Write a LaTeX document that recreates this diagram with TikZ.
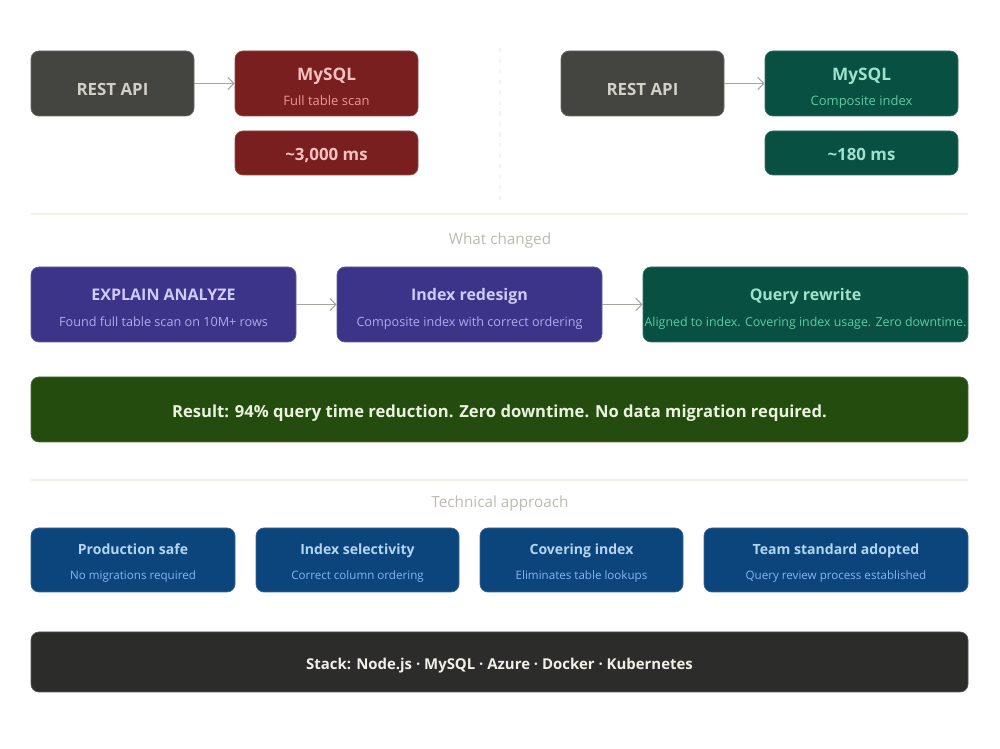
\documentclass[tikz,border=0pt]{standalone}
\usepackage{fontspec}
\setsansfont{Open Sans}
\usetikzlibrary{arrows.meta}
\definecolor{restbg}{HTML}{444441}
\definecolor{resttx}{HTML}{D3D1C7}
\definecolor{redbg}{HTML}{791F1F}
\definecolor{redtx}{HTML}{F7C1C1}
\definecolor{redsub}{HTML}{F09595}
\definecolor{grnbg}{HTML}{085041}
\definecolor{grntx}{HTML}{9FE1CB}
\definecolor{grnsub}{HTML}{5DCAA5}
\definecolor{purbg}{HTML}{3C3489}
\definecolor{purtx}{HTML}{CECBF6}
\definecolor{pursub}{HTML}{AFA9EC}
\definecolor{resbg}{HTML}{234C0E}
\definecolor{restx}{HTML}{EAF3DE}
\definecolor{blubg}{HTML}{0C447C}
\definecolor{blutx}{HTML}{B5D4F4}
\definecolor{blusub}{HTML}{85B7EB}
\definecolor{stkbg}{HTML}{2C2C2A}
\definecolor{stktx}{HTML}{F1EFE8}
\definecolor{hdtx}{HTML}{BCBAB1}
\definecolor{sepln}{HTML}{F1EFE8}
\definecolor{arr}{HTML}{A8A69E}
\newcommand\subA{\mdseries\fontsize{7.4}{14}\selectfont}
\newcommand\subB{\mdseries\fontsize{7.2}{15}\selectfont}
\newcommand\subC{\mdseries\fontsize{6.6}{14.2}\selectfont}
\begin{document}
\begin{tikzpicture}[font=\sffamily, >={Straight Barb[length=3.5pt,width=7pt]},
      bx/.style={rounded corners=4.5pt, align=center, inner sep=0pt, line width=0.4pt},
      big/.style={bx, text height=9pt, text depth=0pt, font=\sffamily\bfseries\fontsize{9.6}{12}\selectfont},
      hd/.style={text=hdtx, font=\sffamily\fontsize{8.7}{10}\selectfont},
      ln/.style={->, draw=arr, line width=0.6pt}]
    \useasboundingbox[fill=white] (0,0) rectangle (20,14.98);
    % before / after
    \node[big, fill=restbg, draw=restbg!80!white, text=resttx, minimum width=3.26cm, minimum height=1.3cm, text height=14pt] (apiA) at (2.25,13.31) {REST API};
    \node[bx, fill=redbg, draw=redbg!80!white, text=redtx, minimum width=3.66cm, minimum height=1.3cm, font=\sffamily\bfseries\fontsize{9.8}{14}\selectfont] (sqlA) at (6.53,13.31)
      {\rule{0pt}{13.6pt}MySQL\\{\subA\color{redsub}Full table scan\rule[-3pt]{0pt}{0pt}}};
    \node[big, fill=redbg, draw=redbg!80!white, text=redtx, minimum width=3.66cm, minimum height=0.88cm] (msA) at (6.53,11.92) {\textasciitilde3,000 ms};
    \node[big, fill=restbg, draw=restbg!80!white, text=resttx, minimum width=3.26cm, minimum height=1.3cm, text height=14pt] (apiB) at (12.85,13.31) {REST API};
    \node[bx, fill=grnbg, draw=grnbg!80!white, text=grntx, minimum width=3.86cm, minimum height=1.3cm, font=\sffamily\bfseries\fontsize{9.8}{14}\selectfont] (sqlB) at (17.23,13.31)
      {\rule{0pt}{13.6pt}MySQL\\{\subA\color{grnsub}Composite index\rule[-3pt]{0pt}{0pt}}};
    \node[big, fill=grnbg, draw=grnbg!80!white, text=grntx, minimum width=3.86cm, minimum height=0.88cm] (msB) at (17.23,11.92) {\textasciitilde180 ms};
    \draw[ln] (apiA) -- (sqlA);
    \draw[ln] (apiB) -- (sqlB);
    \draw[sepln!70!white, dash pattern=on 2.5pt off 3.5pt, line width=0.6pt] (10,14.02) -- (10,10.98);
    \draw[sepln, line width=0.6pt] (0.62,10.70) -- (19.36,10.70);
    % what changed
    \node[hd] (hdA) at (10,10.16) {What changed};
    \node[bx, fill=purbg, draw=purbg!80!white, text=purtx, minimum width=5.3cm, minimum height=1.5cm, font=\sffamily\bfseries\fontsize{9.1}{15}\selectfont] (expl) at (3.27,8.89)
      {\rule{0pt}{13.6pt}EXPLAIN ANALYZE\\{\subB\color{pursub}Found full table scan on 10M+ rows\rule[-3pt]{0pt}{0pt}}};
    \node[bx, fill=purbg, draw=purbg!80!white, text=purtx, minimum width=5.3cm, minimum height=1.5cm, font=\sffamily\bfseries\fontsize{9.1}{15}\selectfont] (idx) at (9.39,8.89)
      {\rule{0pt}{13.6pt}Index redesign\\{\subB\color{pursub}Composite index with correct ordering\rule[-3pt]{0pt}{0pt}}};
    \node[bx, fill=grnbg, draw=grnbg!80!white, text=grntx, minimum width=6.5cm, minimum height=1.5cm, font=\sffamily\bfseries\fontsize{9.1}{15}\selectfont] (qry) at (16.11,8.89)
      {\rule{0pt}{13.6pt}Query rewrite\\{\subB\fontsize{7.05}{15}\selectfont\color{grnsub}Aligned to index. Covering index usage. Zero downtime.\rule[-3pt]{0pt}{0pt}}};
    \draw[ln] (expl) -- (idx);
    \draw[ln] (idx) -- (qry);
    \node[big, fill=resbg, draw=resbg!80!white, text=restx, minimum width=18.74cm, minimum height=1.3cm, font=\sffamily\bfseries\fontsize{9.45}{12}\selectfont] (res) at (9.99,6.79)
      {Result: 94\% query time reduction. Zero downtime. No data migration required.};
    \draw[sepln, line width=0.6pt] (0.62,5.38) -- (19.36,5.38);
    % technical approach
    \node[hd] (hdB) at (10,4.90) {Technical approach};
    \node[bx, fill=blubg, draw=blubg!80!white, text=blutx, font=\sffamily\bfseries\fontsize{8}{14.2}\selectfont, minimum width=4.08cm, minimum height=1.28cm] (prod) at (2.66,3.78)
      {\rule{0pt}{10.8pt}Production safe\\{\subC\color{blusub}No migrations required\rule[-3pt]{0pt}{0pt}}};
    \node[bx, fill=blubg, draw=blubg!80!white, text=blutx, font=\sffamily\bfseries\fontsize{8}{14.2}\selectfont, minimum width=4.06cm, minimum height=1.28cm] (sel) at (7.15,3.78)
      {\rule{0pt}{10.8pt}Index selectivity\\{\subC\color{blusub}Correct column ordering\rule[-3pt]{0pt}{0pt}}};
    \node[bx, fill=blubg, draw=blubg!80!white, text=blutx, font=\sffamily\bfseries\fontsize{8}{14.2}\selectfont, minimum width=4.06cm, minimum height=1.28cm] (cov) at (11.63,3.78)
      {\rule{0pt}{10.8pt}Covering index\\{\subC\color{blusub}Eliminates table lookups\rule[-3pt]{0pt}{0pt}}};
    \node[bx, fill=blubg, draw=blubg!80!white, text=blutx, font=\sffamily\bfseries\fontsize{8}{14.2}\selectfont, minimum width=5.28cm, minimum height=1.28cm] (team) at (16.72,3.78)
      {\rule{0pt}{10.8pt}Team standard adopted\\{\subC\color{blusub}Query review process established\rule[-3pt]{0pt}{0pt}}};
    \node[big, fill=stkbg, draw=stkbg!80!white, text=stktx, font=\sffamily\bfseries\fontsize{8.5}{10}\selectfont, minimum width=18.74cm, minimum height=1.2cm] (stk) at (9.99,1.74)
      {Stack: Node.js · MySQL · Azure · Docker · Kubernetes};
  \end{tikzpicture}
\end{document}
